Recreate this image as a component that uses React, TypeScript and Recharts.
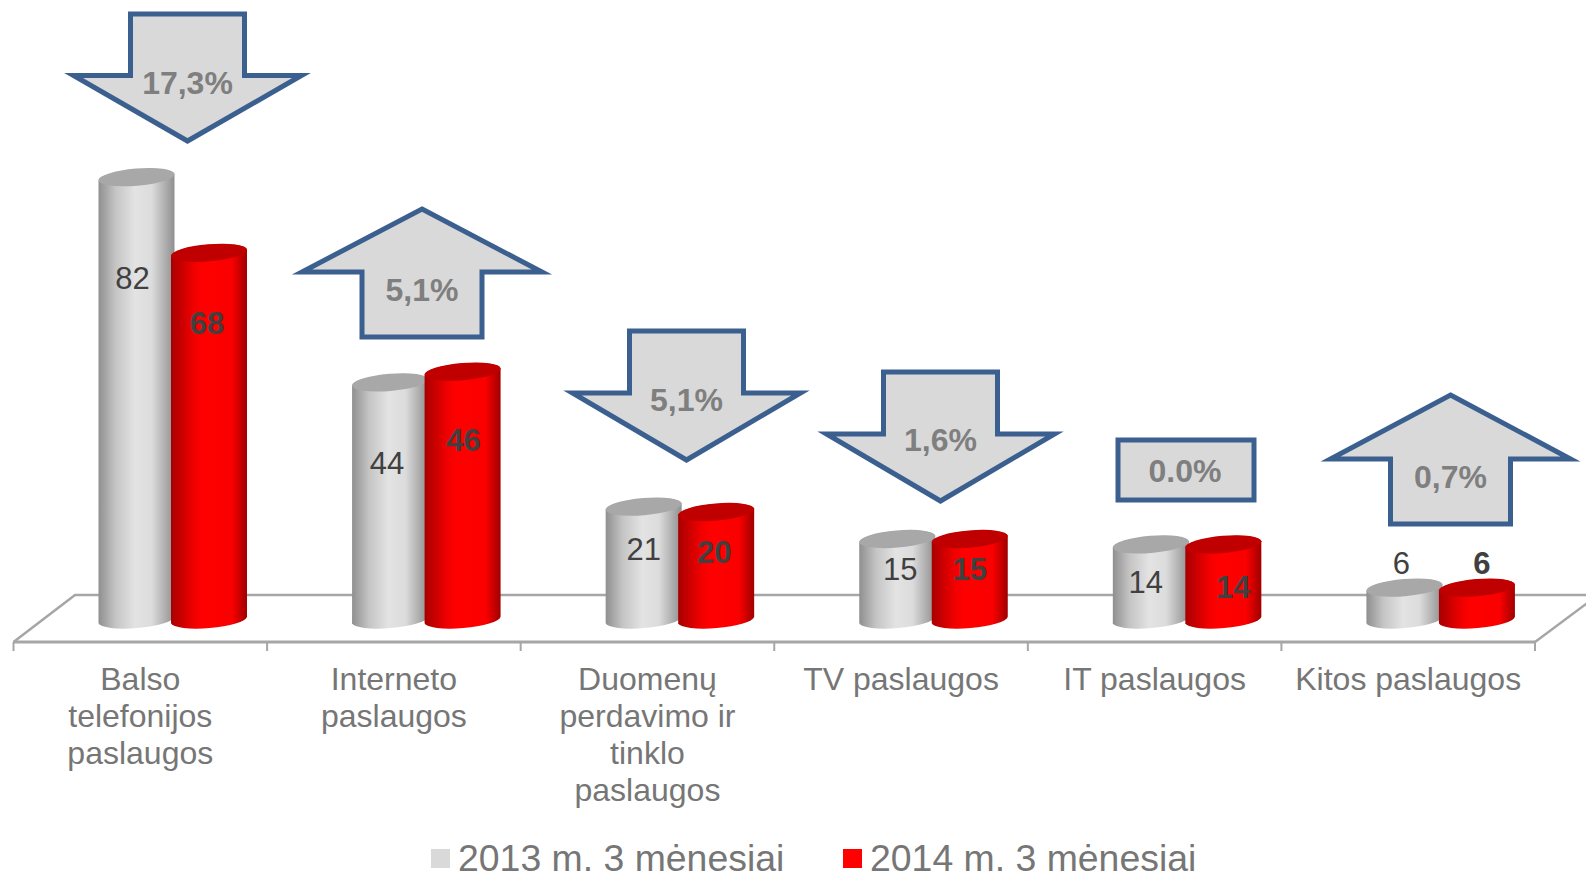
import React from 'react';
import { BarChart, Bar, XAxis, YAxis, LabelList, Legend } from 'recharts';

const categories = [
  'Balso\ntelefonijos\npaslaugos',
  'Interneto\npaslaugos',
  'Duomenų\nperdavimo ir\ntinklo\npaslaugos',
  'TV paslaugos',
  'IT paslaugos',
  'Kitos paslaugos',
];
const values2013 = [82, 44, 21, 15, 14, 6];
const values2014 = [68, 46, 20, 15, 14, 6];
const seriesNames = ['2013 m. 3 mėnesiai', '2014 m. 3 mėnesiai'];
const changeLabels = ['17,3%', '5,1%', '5,1%', '1,6%', '0.0%', '0,7%'];

const chartData = categories.map((name, i) => ({
  name,
  y2013: values2013[i],
  y2014: values2014[i],
}));

// labels were moved by hand in the original, so they need a nudge per bar
const labelNudge2013 = [
  [-4, 101],
  [-3, 81],
  [0, 43],
  [3, 30.5],
  [-5, 38],
  [-3, -24.6],
];
const labelNudge2014 = [
  [-2, 71],
  [1, 69],
  [-2, 40],
  [0, 30.5],
  [10, 43],
  [5, -24.6],
];

const FONT = '"Liberation Sans", Arial, sans-serif';
const WIDTH = 1586;
const HEIGHT = 875;
const AXIS_LEFT = 13.5;
const AXIS_RIGHT = 1535;
const AXIS_Y = 642;
const BACK_Y = 595;
const CAT_WIDTH = (AXIS_RIGHT - AXIS_LEFT) / categories.length;
const DEPTH_X = 32; // the 3D floor pushes bars to the right of the axis bands
const TILT = 3.2;
const TILT_DEG = -4.8;
const RY = 8.6;
const GRID = '#a6a6a6';
const TEXT_GREY = '#767676';
const LABEL_DARK = '#404040';
const ARROW_STROKE = '#3b608f';
const ARROW_FILL = '#d9d9d9';
const LEGEND_COLORS = ['#d9d9d9', '#ff0000'];

const Cylinder = ({ x, y, width, height, gradient, topColor }: any) => {
  const left = x + DEPTH_X;
  const right = left + width;
  const base = y + height;
  const rx = width / 2 + 0.2;
  const d = [
    `M${left},${y + TILT}`,
    `L${left},${base + TILT}`,
    `A${rx},${RY} ${TILT_DEG} 0 0 ${right},${base - TILT}`,
    `L${right},${y - TILT}`,
    `A${rx},${RY} ${TILT_DEG} 0 0 ${left},${y + TILT}`,
    'Z',
  ].join(' ');
  const cx = left + width / 2;
  return (
    <g>
      <path d={d} fill={`url(#${gradient})`} />
      <ellipse cx={cx} cy={y} rx={rx} ry={RY} fill={topColor} transform={`rotate(${TILT_DEG} ${cx} ${y})`} />
    </g>
  );
};

const BarLabel = ({ x, y, width, value, index, nudge, bold }: any) => (
  <text
    x={x + DEPTH_X + width / 2 + nudge[index][0]}
    y={y + nudge[index][1]}
    textAnchor="middle"
    dominantBaseline="central"
    fontFamily={FONT}
    fontSize={31}
    fontWeight={bold ? 700 : 400}
    fill={LABEL_DARK}
  >
    {value}
  </text>
);

const CategoryTick = ({ x, payload }: any) => {
  const lines = String(payload.value).split('\n');
  const tickX = x + CAT_WIDTH / 2;
  return (
    <g>
      <line x1={tickX} x2={tickX} y1={AXIS_Y} y2={AXIS_Y + 9} stroke={GRID} strokeWidth={2} />
      {payload.index === 0 && (
        <line x1={AXIS_LEFT} x2={AXIS_LEFT} y1={AXIS_Y} y2={AXIS_Y + 9} stroke={GRID} strokeWidth={2} />
      )}
      {lines.map((line, i) => (
        <text
          key={i}
          x={x}
          y={679 + i * 37}
          textAnchor="middle"
          dominantBaseline="central"
          fontFamily={FONT}
          fontSize={32}
          fill={TEXT_GREY}
        >
          {line}
        </text>
      ))}
    </g>
  );
};

const Floor = () => (
  <polyline
    points={`${AXIS_LEFT},${AXIS_Y} 75,${BACK_Y} ${WIDTH + 12},${BACK_Y} ${AXIS_RIGHT},${AXIS_Y}`}
    fill="none"
    stroke={GRID}
    strokeWidth={2.5}
  />
);

const ChangeText = ({ x, y, label }: any) => (
  <text
    x={x}
    y={y}
    textAnchor="middle"
    dominantBaseline="central"
    fontFamily={FONT}
    fontSize={32}
    fontWeight={700}
    fill="#7f7f7f"
  >
    {label}
  </text>
);

const shapeStyle = { fill: ARROW_FILL, stroke: ARROW_STROKE, strokeWidth: 5, strokeLinejoin: 'miter' as const };

const DownArrow = ({ cx, top, wing, tip, textY, label }: any) => (
  <g>
    <polygon
      {...shapeStyle}
      strokeMiterlimit={10}
      points={`${cx - 57},${top} ${cx + 57},${top} ${cx + 57},${wing} ${cx + 114},${wing} ${cx},${tip} ${cx - 114},${wing} ${cx - 57},${wing}`}
    />
    <ChangeText x={cx} y={textY} label={label} />
  </g>
);

const UpArrow = ({ cx, tip, wing, bottom, textY, label }: any) => (
  <g>
    <polygon
      {...shapeStyle}
      strokeMiterlimit={10}
      points={`${cx},${tip} ${cx + 120},${wing} ${cx + 60},${wing} ${cx + 60},${bottom} ${cx - 60},${bottom} ${cx - 60},${wing} ${cx - 120},${wing}`}
    />
    <ChangeText x={cx} y={textY} label={label} />
  </g>
);

const LegendRow = () => (
  <div style={{ position: 'relative', height: 40, fontFamily: FONT, fontSize: 37.4, color: TEXT_GREY }}>
    {seriesNames.map((name, i) => {
      const left = i === 0 ? 431 : 843;
      return (
        <React.Fragment key={name}>
          <span
            style={{
              position: 'absolute',
              left,
              top: 14,
              width: 19,
              height: 19,
              background: LEGEND_COLORS[i],
            }}
          />
          <span style={{ position: 'absolute', left: left + 27, top: 5.5, whiteSpace: 'nowrap', lineHeight: '34px' }}>
            {name}
          </span>
        </React.Fragment>
      );
    })}
  </div>
);

export default function App() {
  return (
    <div style={{ position: 'absolute', left: 0, top: 0, width: WIDTH, height: HEIGHT, overflow: 'hidden', background: '#fff' }}>
      <BarChart
        width={WIDTH}
        height={HEIGHT}
        data={chartData}
        margin={{ top: 0, right: WIDTH - AXIS_RIGHT, left: AXIS_LEFT, bottom: 0 }}
        barSize={76}
        barGap={-3.5}
        barCategoryGap={0}
      >
        <defs>
          <linearGradient id="cylGrey" x1="0" x2="1" y1="0" y2="0">
            <stop offset="0" stopColor="#8f8f8f" />
            <stop offset="0.22" stopColor="#c4c4c4" />
            <stop offset="0.48" stopColor="#e3e3e3" />
            <stop offset="0.7" stopColor="#dcdcdc" />
            <stop offset="1" stopColor="#8f8f8f" />
          </linearGradient>
          <linearGradient id="cylRed" x1="0" x2="1" y1="0" y2="0">
            <stop offset="0" stopColor="#a80000" />
            <stop offset="0.3" stopColor="#f00000" />
            <stop offset="0.42" stopColor="#ff0000" />
            <stop offset="0.8" stopColor="#fa0000" />
            <stop offset="1" stopColor="#a00000" />
          </linearGradient>
        </defs>
        <Floor />
        <XAxis
          dataKey="name"
          interval={0}
          height={193}
          axisLine={{ stroke: GRID, strokeWidth: 3 }}
          tickLine={false}
          tick={<CategoryTick />}
        />
        <YAxis hide width={0} domain={[-4.07, 114.81]} allowDataOverflow />
        <Legend
          content={<LegendRow />}
          wrapperStyle={{ left: 0, bottom: 0, width: WIDTH, height: 40 }}
        />
        <Bar
          dataKey="y2013"
          name={seriesNames[0]}
          fill={LEGEND_COLORS[0]}
          isAnimationActive={false}
          shape={<Cylinder gradient="cylGrey" topColor="#a8a8a8" />}
        >
          <LabelList dataKey="y2013" content={<BarLabel nudge={labelNudge2013} />} />
        </Bar>
        <Bar
          dataKey="y2014"
          name={seriesNames[1]}
          fill={LEGEND_COLORS[1]}
          isAnimationActive={false}
          shape={<Cylinder gradient="cylRed" topColor="#c00000" />}
        >
          <LabelList dataKey="y2014" content={<BarLabel nudge={labelNudge2014} bold />} />
        </Bar>
        <DownArrow cx={187.5} top={14} wing={75.5} tip={141} textY={83} label={changeLabels[0]} />
        <UpArrow cx={422} tip={209} wing={272} bottom={337} textY={290} label={changeLabels[1]} />
        <DownArrow cx={686.5} top={331} wing={393} tip={460} textY={400} label={changeLabels[2]} />
        <DownArrow cx={940.5} top={372} wing={434} tip={501} textY={440} label={changeLabels[3]} />
        <g>
          <rect x={1118} y={440} width={136} height={60} {...shapeStyle} />
          <ChangeText x={1185} y={471} label={changeLabels[4]} />
        </g>
        <UpArrow cx={1450.5} tip={395} wing={459} bottom={524} textY={477} label={changeLabels[5]} />
      </BarChart>
    </div>
  );
}
